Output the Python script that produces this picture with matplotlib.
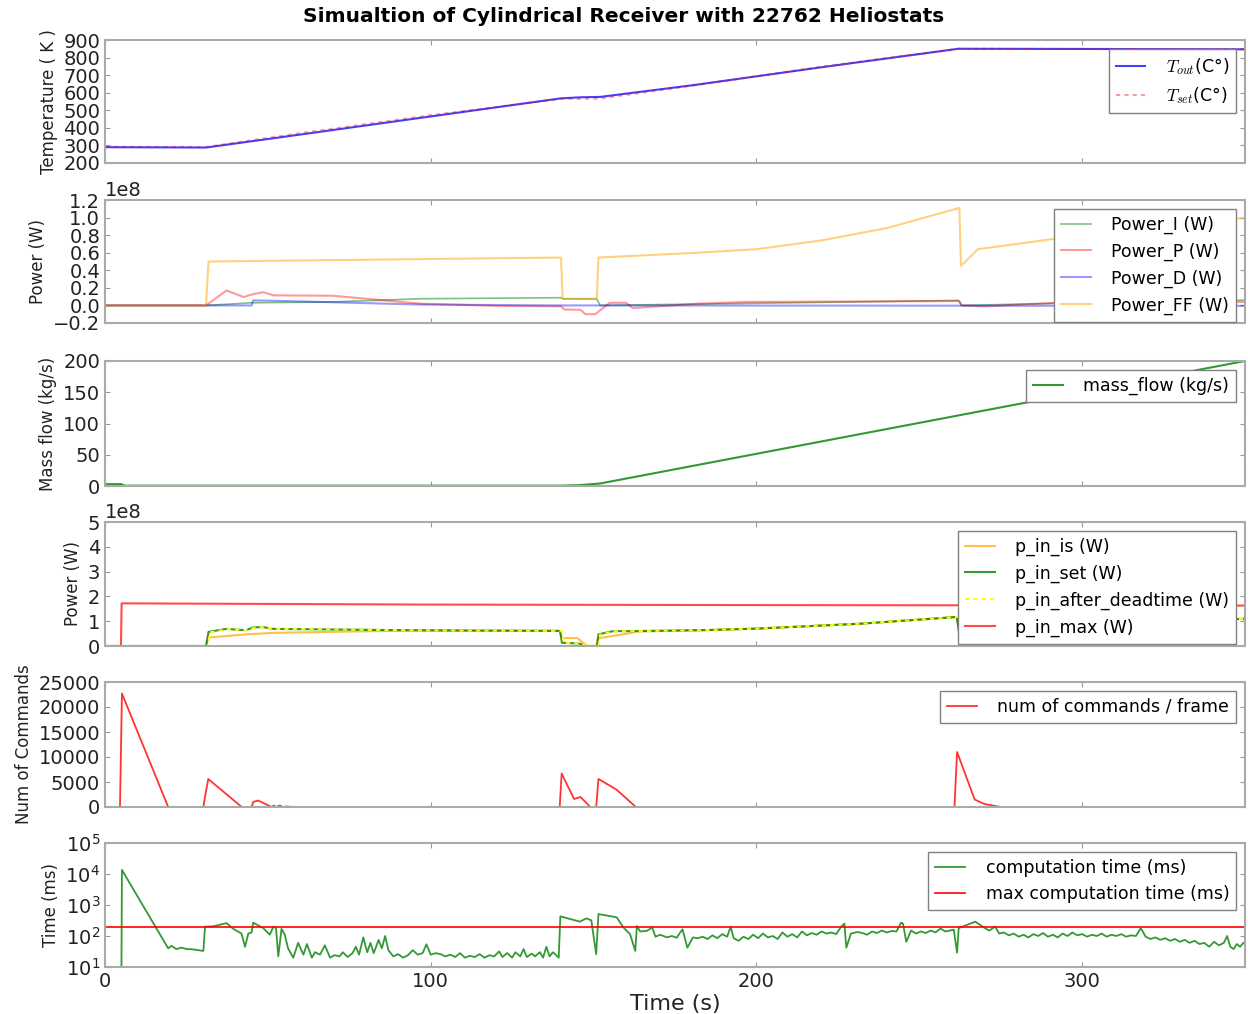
import matplotlib.pyplot as plt
import numpy as np

# ---- temperature (K) ----
t_temp = [0, 31, 60, 100, 140, 146, 152, 181, 220, 262, 300, 350]
temp_out = [290, 288, 362, 465, 568, 574, 576, 644, 745, 850, 849, 847]
temp_set = [292, 291, 370, 472, 565, 565, 567, 642, 748, 850, 849, 848]

# ---- controller power terms (1e8 W) ----
t_pi = [0, 31, 45, 70, 97, 140, 140.5, 151, 152, 200, 262, 263, 300, 350]
power_i = [0, 0, 0.03, 0.04, 0.076, 0.088, 0.075, 0.072, 0.0, 0.025, 0.057, 0.0, 0.03, 0.06]
t_pp = [0, 31, 37.3, 42.5, 45.6, 48.6, 51.7, 70, 97, 120, 140, 141, 146, 147.5,
        150.5, 155, 160, 162, 182, 197, 262.3, 263, 270, 292, 350]
power_p = [0, 0, 0.17, 0.096, 0.13, 0.15, 0.115, 0.11, 0.02, -0.005, -0.01, -0.046,
           -0.05, -0.10, -0.10, 0.03, 0.03, -0.03, 0.02, 0.04, 0.05, 0.0, -0.01, 0.03, 0.04]
t_pd = [0, 45, 45.5, 50, 97, 140, 350]
power_d = [0, 0, 0.057, 0.055, 0.01, 0.0, -0.005]
t_ff = [0, 31, 31.8, 97, 140, 140.5, 151, 151.5, 182, 200, 220, 240, 262.3, 262.8,
        268, 292, 320, 350]
power_ff = [0, 0, 0.50, 0.527, 0.545, 0.077, 0.077, 0.545, 0.60, 0.64, 0.74, 0.88,
            1.11, 0.45, 0.64, 0.76, 0.88, 1.0]

# ---- mass flow (kg/s) ----
t_mass = [0, 5, 6, 140, 146, 152, 350]
mass_flow = [3, 3, 0.5, 0.5, 1.5, 4, 200]

# ---- input power (1e8 W) ----
t_pmax = [0, 4.9, 5.1, 100, 200, 350]
p_in_max = [0, 0, 1.72, 1.67, 1.65, 1.63]
t_pset = [0, 31, 31.8, 37.3, 41.4, 43.4, 45.4, 48.6, 51.7, 97, 139.7, 140.3, 145.5,
          148, 151, 151.5, 156, 162, 184, 200, 232, 261.5, 262.3, 266, 270, 300, 330, 350]
p_in_set = [0, 0, 0.57, 0.69, 0.65, 0.64, 0.75, 0.76, 0.69, 0.63, 0.61, 0.13, 0.10,
            0.0, 0.0, 0.47, 0.60, 0.60, 0.64, 0.70, 0.90, 1.17, 0.47, 0.65, 0.72,
            0.85, 0.98, 1.10]
t_pdead = [0, 31.5, 32.3, 37.8, 41.9, 43.9, 45.9, 49.1, 52.2, 97, 140.2, 140.8, 146,
           148.5, 151.5, 152, 156.5, 162.5, 184, 200, 232, 262, 262.8, 266.5, 270.5,
           300, 330, 350]
p_in_dead = [0, 0, 0.55, 0.68, 0.65, 0.64, 0.74, 0.76, 0.69, 0.63, 0.61, 0.13, 0.10,
             0.0, 0.0, 0.46, 0.60, 0.60, 0.64, 0.70, 0.90, 1.17, 0.47, 0.65, 0.72,
             0.85, 0.98, 1.10]
t_pis = [0, 31, 31.8, 43.4, 51.7, 70, 97, 139.7, 140.3, 145, 148, 151, 151.5, 161.7,
         163, 184, 200, 232, 261.5, 262.3, 266, 270, 300, 330, 350]
p_in_is = [0, 0, 0.34, 0.47, 0.53, 0.57, 0.63, 0.61, 0.32, 0.32, 0.0, 0.0, 0.31, 0.53,
           0.58, 0.64, 0.70, 0.90, 1.17, 0.47, 0.60, 0.70, 0.85, 0.98, 1.10]

# ---- commands per frame ----
t_cmd = [0, 4.6, 5.2, 19.4, 30.2, 30.7, 31.7, 42, 45, 45.5, 47, 51.2, 51.8, 52.5,
         53.7, 54.5, 56, 57, 60, 139.6, 140.2, 144, 146, 149, 150.8, 151.5, 157, 163,
         260.8, 261.6, 267, 270, 275, 350]
commands = [0, 0, 22700, 0, 0, 2000, 5600, 0, 0, 1000, 1300, 0, 300, 0, 300, 0, 100,
            0, 0, 0, 6700, 1600, 2000, 0, 0, 5600, 3500, 0, 0, 11000, 1500, 600, 0, 0]

# ---- computation time (ms) ----
t_comp = [5.0, 5.2, 19.4, 20.4, 21.9, 23.5, 25, 27, 30.2, 30.7, 33.2, 37.3, 39.4,
          41.9, 43, 44, 45, 45.5, 47, 48.6, 50.6, 51.7, 52.5, 53.2, 54.2, 55.2, 56.2,
          57.8, 59.3, 60.9, 62, 63.5, 64.5, 66, 67.5, 69.1, 70.5, 72, 73, 74.5, 76, 77,
          78, 79.3, 80.5, 81.5, 82.5, 84, 85, 86, 87, 88.5, 90, 91.5, 93, 94.5, 96,
          97.5, 98.7, 100, 101.5, 103, 104.5, 106, 107.5, 109, 110.5, 112, 113.5, 115,
          116.5, 118, 119.5, 121, 122, 123.5, 125, 126, 127.5, 128.5, 129.5, 131, 132,
          133.5, 134.5, 135.5, 136.5, 137.5, 139.3, 139.8, 145.8, 147.8, 149.3, 150.8,
          151.5, 157.1, 159.2, 161.2, 162.8, 163.3, 164.3, 166.4, 168, 169, 170.5,
          172.5, 174, 175.5, 177.3, 178.8, 180.5, 182, 183.5, 185, 186.5, 188, 189.5,
          191, 192.1, 193, 194.5, 196, 197.5, 199, 200.5, 202, 203.5, 205, 206.5, 208,
          209.5, 211, 212.5, 214, 215.5, 217, 218.5, 220, 221.5, 223, 224.5, 226, 227,
          227.6, 229, 231, 232.5, 234, 235.5, 237, 238.5, 240, 241.5, 243, 244.4, 245,
          246, 247.5, 249, 250.5, 252, 253.5, 255, 256.5, 258, 260.6, 261.6, 262.1,
          267.2, 270.3, 271.5, 273.3, 274.5, 276, 277.5, 279, 280.5, 282, 283.5, 285,
          286.5, 288, 289.5, 291, 292.5, 294, 295.5, 297, 298.5, 300, 301.5, 303,
          304.5, 306, 307.5, 309, 310.5, 312, 313.5, 315, 316.5, 318, 319.5, 321,
          322.5, 324, 325.5, 327, 328.5, 330, 331.5, 333, 334.5, 336, 337.5, 339,
          340.5, 342, 343.5, 344.5, 345.5, 346.5, 347.5, 348.5, 349.5]
comp_time = [1, 13500, 40, 48, 38, 42, 38, 37, 33, 200, 205, 260, 170, 120, 45, 120,
             130, 270, 220, 180, 110, 200, 180, 22, 170, 110, 40, 20, 60, 25, 55, 20,
             30, 25, 50, 20, 24, 22, 30, 21, 28, 45, 25, 90, 30, 60, 28, 75, 40, 100,
             35, 22, 26, 20, 24, 35, 25, 28, 54, 25, 28, 26, 22, 25, 21, 28, 20, 23, 21,
             26, 20, 24, 22, 32, 21, 28, 20, 30, 22, 38, 21, 27, 22, 30, 20, 45, 22, 30,
             20, 430, 290, 370, 320, 26, 510, 400, 187, 115, 33, 210, 140, 147, 187, 95,
             110, 90, 100, 88, 165, 42, 90, 85, 95, 80, 105, 85, 115, 95, 200, 85, 70,
             95, 80, 110, 85, 120, 90, 100, 80, 130, 95, 115, 90, 140, 105, 125, 110,
             140, 120, 130, 115, 200, 250, 42, 120, 135, 125, 110, 140, 125, 150, 130,
             145, 140, 270, 250, 65, 150, 120, 140, 125, 150, 130, 175, 140, 160, 29,
             180, 290, 175, 150, 200, 120, 130, 105, 120, 95, 110, 90, 115, 100, 125,
             95, 110, 90, 120, 100, 130, 105, 115, 95, 110, 100, 120, 95, 110, 100, 115,
             95, 105, 100, 180, 95, 80, 90, 75, 85, 70, 80, 65, 75, 60, 70, 55, 60, 45,
             65, 50, 60, 100, 45, 38, 55, 45, 60]
t_maxcomp = [0, 350]
max_comp_time = [200, 200]

plt.rcParams['font.family'] = 'DejaVu Sans'
plt.rcParams['mathtext.fontset'] = 'cm'
plt.rcParams['xtick.direction'] = 'in'
plt.rcParams['ytick.direction'] = 'in'
plt.rcParams['xtick.top'] = True
plt.rcParams['ytick.right'] = True
plt.rcParams['xtick.color'] = '#999999'
plt.rcParams['ytick.color'] = '#999999'
plt.rcParams['xtick.labelcolor'] = '#222222'
plt.rcParams['ytick.labelcolor'] = '#222222'
plt.rcParams['xtick.labelsize'] = 14
plt.rcParams['ytick.labelsize'] = 14
plt.rcParams['axes.edgecolor'] = '#aaaaaa'
plt.rcParams['axes.linewidth'] = 1.5
plt.rcParams['axes.formatter.use_mathtext'] = False

fig = plt.figure(figsize=(12.48, 10.14), dpi=100)
W, H = 1248.0, 1014.0
rows = [(40, 163), (200, 323), (361, 486), (522, 646), (682, 807), (843, 967)]
axes = []
for top, bot in rows:
    axes.append(fig.add_axes([105 / W, 1 - bot / H, 1140 / W, (bot - top) / H]))

leg_kw = dict(loc='upper right', fontsize=12.5, fancybox=False, framealpha=1,
              edgecolor='#808080', handlelength=1.7, handletextpad=1.2,
              labelspacing=0.5, borderaxespad=0.5)
label_kw = dict(fontsize=12, color='#222222')

e8 = 1e8

ax = axes[0]
ax.plot(t_temp, temp_out, color='b', alpha=0.75, lw=1.5, label=r'$T_{out}$(C°)')
ax.plot(t_temp, temp_set, color='r', alpha=0.4, lw=1.5, ls=(0, (2, 2)),
        label=r'$T_{set}$(C°)')
ax.set_ylim(200, 900)
ax.set_yticks(np.arange(200, 901, 100))
ax.set_ylabel('Temperature ( K )', **label_kw)
ax.legend(**leg_kw)

ax = axes[1]
ax.plot(t_pi, np.array(power_i) * e8, color='g', alpha=0.5, lw=1.2, label='Power_I (W)')
ax.plot(t_pp, np.array(power_p) * e8, color='r', alpha=0.4, lw=1.5, label='Power_P (W)')
ax.plot(t_pd, np.array(power_d) * e8, color='b', alpha=0.4, lw=1.5, label='Power_D (W)')
ax.plot(t_ff, np.array(power_ff) * e8, color='orange', alpha=0.5, lw=1.5,
        label='Power_FF (W)')
ax.set_ylim(-0.2e8, 1.2e8)
ax.set_yticks(np.arange(-0.2, 1.21, 0.2) * e8)
ax.set_ylabel('Power (W)', **label_kw)
ax.legend(**leg_kw)

ax = axes[2]
ax.plot(t_mass, mass_flow, color='g', alpha=0.8, lw=1.5, label='mass_flow (kg/s)')
ax.set_ylim(0, 200)
ax.set_yticks(np.arange(0, 201, 50))
ax.set_ylabel('Mass flow (kg/s)', **label_kw)
ax.legend(**leg_kw)

ax = axes[3]
ax.plot(t_pis, np.array(p_in_is) * e8, color='orange', alpha=0.7, lw=1.5,
        label='p_in_is (W)')
ax.plot(t_pset, np.array(p_in_set) * e8, color='g', alpha=0.8, lw=1.5,
        label='p_in_set (W)')
ax.plot(t_pdead, np.array(p_in_dead) * e8, color='yellow', lw=1.5, ls=(0, (2, 2)),
        label='p_in_after_deadtime (W)')
ax.plot(t_pmax, np.array(p_in_max) * e8, color='r', alpha=0.7, lw=1.5,
        label='p_in_max (W)')
ax.set_ylim(0, 5e8)
ax.set_yticks(np.arange(0, 6) * e8)
ax.set_ylabel('Power (W)', **label_kw)
ax.legend(**leg_kw)

ax = axes[4]
ax.plot(t_cmd, commands, color='r', alpha=0.8, lw=1.3, label='num of commands / frame')
ax.set_ylim(0, 25000)
ax.set_yticks(np.arange(0, 25001, 5000))
ax.set_ylabel('Num of Commands', **label_kw)
ax.legend(**leg_kw)

ax = axes[5]
ax.plot(t_comp, comp_time, color='g', alpha=0.8, lw=1.3, label='computation time (ms)')
ax.plot(t_maxcomp, max_comp_time, color='r', lw=1.2, label='max computation time (ms)')
ax.set_yscale('log')
ax.set_ylim(10, 1e5)
ax.set_yticks([1e1, 1e2, 1e3, 1e4, 1e5])
ax.set_ylabel('Time (ms)', **label_kw)
ax.set_xlabel('Time (s)', fontsize=16, color='#222222', labelpad=2)
ax.legend(**leg_kw)

for i, ax in enumerate(axes):
    ax.set_xlim(0, 350)
    ax.set_xticks([0, 100, 200, 300])
    ax.yaxis.get_offset_text().set_fontsize(14)
    if i < 5:
        ax.tick_params(labelbottom=False)

fig.text(0.5, 1 - 17 / H, 'Simualtion of Cylindrical Receiver with 22762 Heliostats',
         ha='center', va='center', fontsize=14.5, fontweight='bold')

fig.savefig('out.png', dpi=100, facecolor='white')
